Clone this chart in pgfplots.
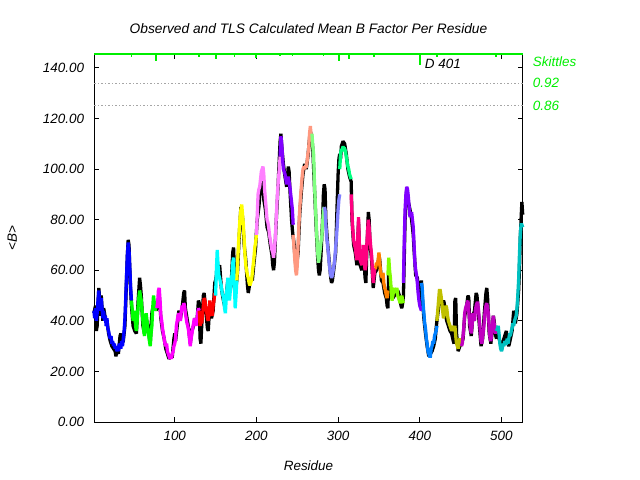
\documentclass[border=0pt]{standalone}
\usepackage{fontspec}
\setmainfont{Liberation Sans}
\usepackage{pgfplots}
\pgfplotsset{compat=1.18}
\definecolor{sgreen}{RGB}{0,238,0}
\definecolor{cBlue}{RGB}{0,0,255}
\definecolor{cGreen}{RGB}{0,255,0}
\definecolor{cMag}{RGB}{255,0,255}
\definecolor{cRed}{RGB}{255,0,0}
\definecolor{cCyan}{RGB}{0,255,255}
\definecolor{cYel}{RGB}{255,255,0}
\definecolor{cPink}{RGB}{255,128,255}
\definecolor{cPurp}{RGB}{128,0,255}
\definecolor{cSalm}{RGB}{255,153,128}
\definecolor{cLGreen}{RGB}{128,255,128}
\definecolor{cLav}{RGB}{128,128,255}
\definecolor{cSpring}{RGB}{0,255,128}
\definecolor{cDPink}{RGB}{255,0,128}
\definecolor{cOrange}{RGB}{255,128,0}
\definecolor{cChart}{RGB}{128,255,0}
\definecolor{cDodger}{RGB}{0,128,255}
\definecolor{cOlive}{RGB}{192,192,0}
\definecolor{cMMag}{RGB}{192,0,192}
\definecolor{cTurq}{RGB}{0,192,192}
\begin{document}
\begin{tikzpicture}
\begin{axis}[
  scale only axis, width=428.4bp, height=368bp,
  xmin=1.5, xmax=526, ymin=0, ymax=145.5,
  clip=false,
  axis line style={line width=0.9bp},
  every tick/.style={black, line width=0.9bp},
  major tick length=5bp,
  xtick={100,200,300,400,500},
  ytick={0,20,40,60,80,100,120,140},
  /pgf/number format/assume math mode=true,
  yticklabel style={/pgf/number format/fixed, /pgf/number format/fixed zerofill, /pgf/number format/precision=2, /tikz/inner sep=0pt, /tikz/xshift=-10bp},
  every tick label/.append style={font=\itshape\fontsize{13.5}{14}\selectfont},
  xticklabel style={/tikz/inner sep=0pt, /tikz/yshift=-9bp},
  title={Observed and TLS Calculated Mean B Factor Per Residue},
  every axis title/.style={at={(axis description cs:0.5,1)}, yshift=25bp, anchor=center, font=\itshape\fontsize{13.8}{14}\selectfont},
  xlabel={Residue},
  every axis x label/.style={at={(axis description cs:0.5,0)}, yshift=-44bp, anchor=center, font=\itshape\fontsize{13.5}{14}\selectfont},
  ylabel={<B>},
  every axis y label/.style={at={(axis description cs:0,0.5)}, xshift=-82bp, anchor=center, rotate=90, font=\itshape\fontsize{13.5}{14}\selectfont},
  every axis plot/.append style={line width=3.3bp, line join=miter, miter limit=2},
]
% reference lines
\addplot[gray!70, line width=0.9bp, dash pattern=on 1.5bp off 2bp] coordinates {(1.5,134) (526,134)};
\addplot[gray!70, line width=0.9bp, dash pattern=on 1.5bp off 2bp] coordinates {(1.5,125) (526,125)};
% observed
\addplot[black] coordinates {
(1,43) (3,46) (4,36) (5,38) (7,53) (8,49) (9,42) (10,50) (12,40) (13,45) (15,41) (17,40) (19,35) (21,32) (23,30) (25,29) (27,28) (28,26) (29,28) (31,27) (33,34) (34,35) (35,31) (37,32) (39,38) (40,47) (41,57) (42,66) (43,72) (44,70) (45,60) (46,52) (47,46)
(48,42) (49,38) (51,36) (53,35) (55,47) (57,57) (58,54) (59,50) (61,38) (63,35) (65,41) (67,38) (69,33) (70,31) (71,38) (72,43) (73,45) (75,46) (77,44)
(79,46) (81,50) (83,41) (85,36) (87,33) (89,29) (91,27) (93,25) (95,26) (97,26) (99,33) (100,35) (101,32) (103,38) (105,44) (107,41) (109,45) (111,51) (112,52) (113,45) (115,41) (117,37) (119,31) (121,36) (123,38) (125,41) (127,39) (129,48) (130,47)
(131,33) (132,31) (133,38) (135,50) (136,51) (138,44) (140,37) (141,36) (143,47) (145,41) (147,44) (149,55) (150,56)
(151,58) (152,64) (153,60) (155,62) (157,53) (159,49) (161,46) (163,50) (165,56) (167,51) (169,54) (171,67) (172,69) (173,60) (175,54) (176,56)
(177,60) (179,74) (181,85) (183,81) (185,70) (187,64) (189,54) (190,51) (191,53) (193,57) (195,56) (197,63) (199,69) (200,75)
(201,80) (203,85) (205,93) (207,98) (208,96) (209,88) (211,84) (213,77) (215,75) (217,70) (219,66) (220,62) (221,60) (222,63) (224,78) (226,90) (228,104) (229,111)
(230,114) (231,109) (233,102) (235,97) (237,93) (239,101) (240,99) (241,92) (243,80) (244,76) (245,73)
(246,71) (247,66) (248,63) (249,61) (251,67) (253,82) (255,91) (257,98) (259,102) (261,100) (263,105) (265,112) (266,115) (268,112)
(269,108) (271,93) (273,78) (275,65) (276,60) (277,58) (278,60) (279,66) (281,80) (282,90) (283,94)
(284,92) (285,80) (287,71) (289,64) (291,57) (292,55) (293,56) (295,61) (297,67) (299,88) (300,98) (301,104) (302,106)
(303,104) (304,109) (305,110) (306,111) (308,110) (310,106) (312,100) (314,97) (316,95)
(317,80) (319,70) (321,67) (323,62) (325,79) (327,62) (329,60) (331,68) (333,57) (334,55) (335,66) (337,83) (338,80) (339,71) (341,64) (343,53) (345,59)
(347,60) (349,63) (350,66) (351,64) (353,56) (355,55) (357,51) (359,49) (360,46) (361,45)
(362,60) (363,58) (365,50) (367,49) (369,50) (371,51) (373,52) (375,50) (377,46) (378,45) (379,47)
(380,50) (381,65) (382,80) (384,92) (386,87) (388,84) (390,80) (392,74) (393,68) (395,58) (397,57) (399,50) (401,46) (402,56)
(403,50) (405,41) (407,35) (409,30) (411,26) (413,27) (415,28) (417,30) (419,33) (420,37) (421,40)
(423,45) (425,50) (427,46) (429,48) (430,47) (431,43) (433,40) (435,38) (437,36) (439,35) (441,32) (442,31) (443,48) (444,49) (445,35) (447,28) (449,30) (451,31)
(453,33) (455,42) (457,45) (459,50) (460,49) (461,38) (463,34) (465,42) (467,44) (469,51) (470,50) (471,46) (473,38) (475,30) (477,33) (479,43) (481,51) (482,53) (483,49) (485,35) (487,31) (489,37) (490,42) (491,40) (493,34) (494,33)
(495,35) (497,33) (499,31) (501,30) (503,33) (505,35) (506,36) (507,32) (509,30) (511,33) (513,36) (515,44) (516,42) (517,39) (519,43) (521,52) (522,60) (523,72) (524,80) (525,87) (526,82)
};
% TLS segments
\addplot[cBlue] coordinates {(1,44) (2,41) (3,45) (4,40) (5,43) (6,48) (7,52) (8,47) (9,44) (10,49) (11,45) (12,41) (13,44) (14,40) (15,42) (16,38) (17,41) (18,37) (19,36) (20,34) (21,33) (22,34) (23,31) (24,32) (25,30) (26,31) (27,29) (28,30) (29,28) (30,29) (31,28) (32,31) (33,30) (34,29) (35,32) (36,30) (37,33) (38,36) (39,41) (40,49) (41,58) (42,66) (43,71) (44,68) (45,61) (46,53) (47,48)};
\addplot[cGreen] coordinates {(47,48) (48,44) (49,40) (50,42) (51,44) (52,38) (53,36) (54,40) (55,45) (56,49) (57,52) (58,50) (59,48) (60,44) (61,40) (62,36) (63,34) (64,38) (65,43) (66,40) (67,37) (68,35) (69,32) (70,30) (71,35) (72,38) (73,45) (74,50) (75,47) (76,44) (77,46) (78,45)};
\addplot[cMag] coordinates {(78,45) (79,47) (80,52) (81,53) (82,48) (83,42) (84,40) (85,37) (86,35) (87,33) (88,31) (89,30) (90,31) (91,28) (92,27) (93,26) (94,25) (95,26) (96,25) (97,27) (98,28) (99,30) (100,31) (101,33) (102,38) (103,40) (104,42) (105,43) (106,41) (107,40) (108,44) (109,46) (110,44) (111,47) (112,46) (113,43) (114,41) (115,39) (116,38) (117,36) (118,33) (119,30) (120,33) (121,35) (122,37) (123,39) (124,41) (125,40) (126,38) (127,40) (128,43) (129,45) (130,44)};
\addplot[cRed] coordinates {(130,44) (131,38) (132,40) (133,39) (134,42) (135,46) (136,49) (137,48) (138,45) (139,44) (140,41) (141,40) (142,44) (143,48) (144,45) (145,43) (146,42) (147,46) (148,48) (149,51) (150,50)};
\addplot[cCyan] coordinates {(150,50) (151,60) (152,68) (153,62) (154,58) (155,57) (156,55) (157,54) (158,51) (159,50) (160,48) (161,45) (162,43) (163,49) (164,53) (165,57) (166,55) (167,48) (168,52) (169,55) (170,58) (171,63) (172,65) (173,55) (174,45) (175,50) (176,56)};
\addplot[cYel] coordinates {(176,56) (177,63) (178,70) (179,76) (180,81) (181,84) (182,86) (183,82) (184,78) (185,72) (186,66) (187,62) (188,60) (189,58) (190,57) (191,55) (192,54) (193,55) (194,56) (195,59) (196,62) (197,65) (198,69) (199,71) (200,74)};
\addplot[cPink] coordinates {(200,74) (201,82) (202,90) (203,92) (204,93) (205,96) (206,99) (207,100) (208,101) (209,98) (210,92) (211,88) (212,84) (213,80) (214,79) (215,77) (216,74) (217,72) (218,70) (219,68) (220,67) (221,65) (222,68) (223,72) (224,79) (225,86) (226,92) (227,96) (228,100) (229,105)};
\addplot[cPurp] coordinates {(229,105) (230,113) (231,110) (232,104) (233,100) (234,99) (235,98) (236,96) (237,94) (238,95) (239,97) (240,95) (241,93) (242,90) (243,87) (244,84) (245,78)};
\addplot[cSalm] coordinates {(245,74) (246,69) (247,64) (248,60) (249,58) (250,62) (251,70) (252,78) (253,84) (254,89) (255,93) (256,97) (257,100) (258,101) (259,100) (260,101) (261,101) (262,103) (263,106) (264,108) (265,114) (266,117) (267,113) (268,114)};
\addplot[cLGreen] coordinates {(268,114) (269,109) (270,106) (271,95) (272,87) (273,80) (274,73) (275,67) (276,63) (277,65) (278,68) (279,71) (280,73) (281,78) (282,84) (283,85)};
\addplot[cLav] coordinates {(283,85) (284,84) (285,78) (286,73) (287,70) (288,67) (289,63) (290,60) (291,58) (292,57) (293,58) (294,60) (295,62) (296,65) (297,69) (298,73) (299,78) (300,84) (301,88) (302,90)};
\addplot[cSpring] coordinates {(302,100) (303,106) (304,108) (305,107) (306,109) (307,108) (308,108) (309,107) (310,105) (311,103) (312,101) (313,100) (314,98) (315,97) (316,96)};
\addplot[cDPink] coordinates {(316,90) (317,82) (318,76) (319,72) (320,70) (321,69) (322,66) (323,64) (324,72) (325,81) (326,70) (327,64) (328,63) (329,62) (330,65) (331,70) (332,64) (333,60) (334,62) (335,69) (336,75) (337,80) (338,77) (339,73) (340,69) (341,66) (342,60) (343,55) (344,58) (345,61)};
\addplot[cOrange] coordinates {(345,61) (346,61) (347,63) (348,62) (349,64) (350,67) (351,63) (352,59) (353,58) (354,57) (355,59) (356,55) (357,53) (358,52) (359,50) (360,49) (361,52)};
\addplot[cChart] coordinates {(361,58) (362,65) (363,60) (364,57) (365,52) (366,48) (367,50) (368,52) (369,53) (370,51) (371,52) (372,53) (373,50) (374,49) (375,48) (376,47) (377,48) (378,50) (379,48) (380,47)};
\addplot[cPurp] coordinates {(380,55) (381,72) (382,84) (383,90) (384,93) (385,92) (386,89) (387,85) (388,81) (389,82) (390,83) (391,80) (392,77) (393,70) (394,63) (395,60) (396,58) (397,55) (398,51) (399,48) (400,46) (401,45) (402,44)};
\addplot[cDodger] coordinates {(402,55) (403,53) (404,47) (405,43) (406,39) (407,37) (408,33) (409,31) (410,28) (411,27) (412,26) (413,26) (414,29) (415,30) (416,32) (417,31) (418,34) (419,35) (420,36) (421,38)};
\addplot[cOlive] coordinates {(421,40) (422,44) (423,48) (424,52) (425,52) (426,50) (427,47) (428,44) (429,41) (430,43) (431,44) (432,46) (433,45) (434,42) (435,40) (436,39) (437,38) (438,37) (439,36) (440,38) (441,37) (442,36) (443,38) (444,34) (445,31) (446,30) (447,29) (448,31) (449,33) (450,32) (451,30)};
\addplot[cMMag] coordinates {(451,30) (452,31) (453,34) (454,38) (455,43) (456,45) (457,46) (458,47) (459,48) (460,44) (461,40) (462,37) (463,35) (464,38) (465,43) (466,41) (467,40) (468,44) (469,46) (470,47) (471,47) (472,44) (473,40) (474,36) (475,32) (476,31) (477,34) (478,36) (479,40) (480,44) (481,46) (482,47) (483,45) (484,43) (485,37) (486,33) (487,32) (488,35) (489,38) (490,42) (491,39) (492,36) (493,35) (494,36)};
\addplot[cTurq] coordinates {(494,36) (495,37) (496,38) (497,35) (498,31) (499,29) (500,28) (501,29) (502,31) (503,30) (504,32) (505,31) (506,31) (507,33) (508,31) (509,33) (510,35) (511,34) (512,36) (513,37) (514,39) (515,38) (516,40) (517,41) (518,42) (519,45) (520,50) (521,56) (522,66) (523,74) (524,78) (525,78) (526,77)};
% skittles bar at top
\addplot[sgreen, line width=1.3bp] coordinates {(1.5,145.5) (526,145.5)};
\addplot[sgreen, line width=1.6bp, unbounded coords=jump] coordinates {
(47,145.5) (47,144.4) (47,nan)
(77,145.5) (77,142.9) (77,nan)
(130,145.5) (130,144.4) (130,nan)
(150.5,145.5) (150.5,143.6) (150.5,nan)
(173,145.5) (173,144.4) (173,nan)
(199.5,145.5) (199.5,143.9) (199.5,nan)
(229,145.5) (229,144.6) (229,nan)
(244,145.5) (244,144.6) (244,nan)
(265.6,145.5) (265.6,145) (265.6,nan)
(282,145.5) (282,144.6) (282,nan)
(300.8,145.5) (300.8,142.6) (300.8,nan)
(313,145.5) (313,143.6) (313,nan)
(344,145.5) (344,144.4) (344,nan)
(359.6,145.5) (359.6,145) (359.6,nan)
(376.7,145.5) (376.7,145) (376.7,nan)
(400.4,145.5) (400.4,141.3) (400.4,nan)
(420.8,145.5) (420.8,144.4) (420.8,nan)
(450.6,145.5) (450.6,145) (450.6,nan)
(493.4,145.5) (493.4,144.4)
};
\node[anchor=west, inner sep=0pt, font=\itshape\fontsize{13.5}{14}\selectfont] at (axis cs:406,141.6) {D 401};
\node[anchor=west, inner sep=0pt, text=sgreen, font=\itshape\fontsize{13.5}{14}\selectfont] at (axis cs:526,142.6) [xshift=10bp] {Skittles};
\node[anchor=west, inner sep=0pt, text=sgreen, font=\itshape\fontsize{13.5}{14}\selectfont] at (axis cs:526,134) [xshift=10bp] {0.92};
\node[anchor=west, inner sep=0pt, text=sgreen, font=\itshape\fontsize{13.5}{14}\selectfont] at (axis cs:526,125) [xshift=10bp] {0.86};
\end{axis}
\pgfresetboundingbox
\path[use as bounding box] (-94.3bp,-58bp) rectangle (545.7bp,422bp);
\end{tikzpicture}
\end{document}
